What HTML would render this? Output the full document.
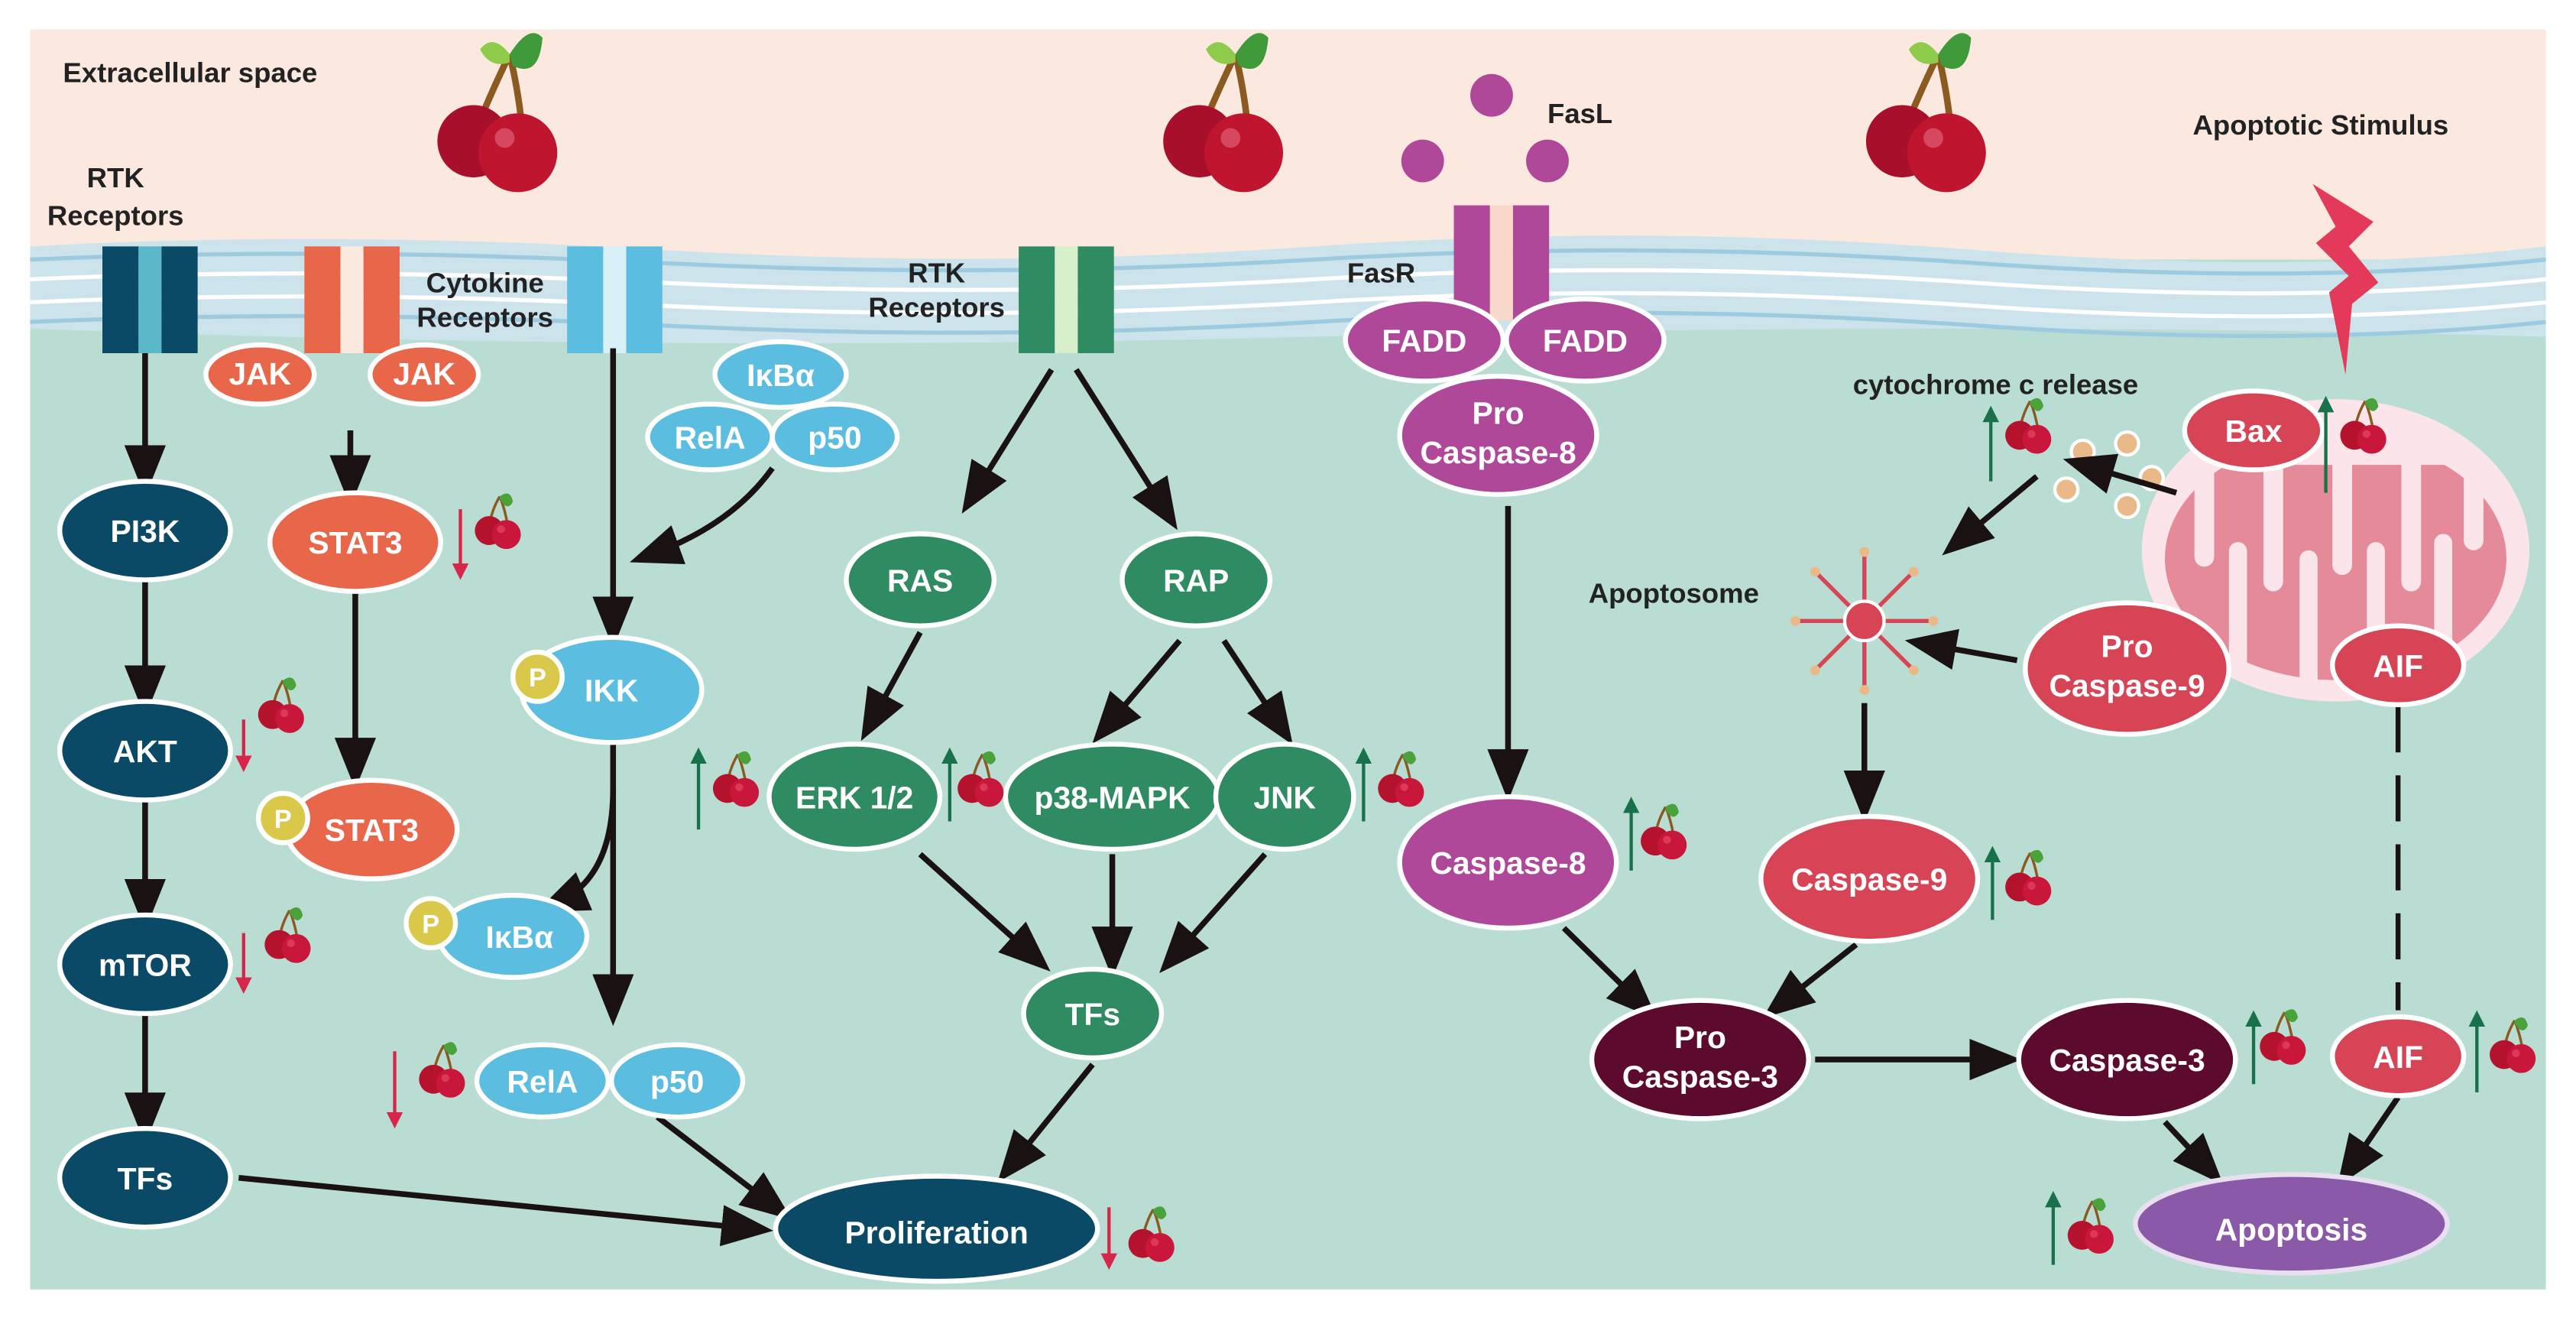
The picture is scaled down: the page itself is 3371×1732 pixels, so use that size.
<!DOCTYPE html>
<html><head><meta charset="utf-8"><style>
html,body{margin:0;padding:0;background:#fff}
svg{display:block}
text{font-family:"Liberation Sans",sans-serif;font-weight:bold}
.w{fill:#fff;text-anchor:middle;font-size:19px}
.k{fill:#222;font-size:17px}
</style></head><body>
<svg width="3371" height="1732" viewBox="0 0 1568 806" xmlns="http://www.w3.org/2000/svg">
<defs>
<clipPath id="mc"><ellipse cx="1422" cy="335" rx="118" ry="92"/></clipPath>
<marker id="ah2" viewBox="0 0 10 10" refX="6" refY="5" markerWidth="9" markerHeight="9" orient="auto"><path d="M0,1 L10,5 L0,9 z" fill="#1a1212"/></marker>
<marker id="ahg" viewBox="0 0 10 10" refX="5" refY="5" markerWidth="5" markerHeight="5" orient="auto"><path d="M0,0 L10,5 L0,10 z" fill="#17714a"/></marker>
<marker id="ahr" viewBox="0 0 10 10" refX="5" refY="5" markerWidth="5" markerHeight="5" orient="auto"><path d="M0,0 L10,5 L0,10 z" fill="#d6264a"/></marker>
<symbol id="ch" viewBox="0 0 40 45">
<path d="M20,4 Q14,14 12,26" stroke="#8a5a20" stroke-width="2" fill="none"/>
<path d="M20,4 Q24,14 26,26" stroke="#8a5a20" stroke-width="2" fill="none"/>
<path d="M20,4 Q28,-2 30,8 Q26,16 20,6z" fill="#4aa23a"/>
<circle cx="12" cy="30" r="11" fill="#b5122e"/>
<circle cx="25" cy="33" r="11" fill="#c8173a"/>
<circle cx="21" cy="29" r="3" fill="#e8506a" opacity=".6"/>
</symbol>
<symbol id="bigch" viewBox="0 0 90 100">
<path d="M50,15 Q38,40 30,60" stroke="#8a5a20" stroke-width="4" fill="none"/>
<path d="M50,15 Q56,40 58,65" stroke="#8a5a20" stroke-width="4" fill="none"/>
<path d="M50,15 Q62,-4 70,5 Q68,30 52,22z" fill="#3f9a3a"/>
<path d="M50,15 Q40,2 32,12 Q38,24 50,20z" fill="#8fcb4a"/>
<circle cx="28" cy="68" r="22" fill="#a80f2a"/>
<circle cx="55" cy="75" r="24" fill="#c0152f"/>
<circle cx="47" cy="66" r="6" fill="#e36a80" opacity=".6"/>
</symbol>
</defs>
<rect width="1568" height="806" fill="#fff"/>
<rect x="18" y="18" width="1532" height="767" fill="#b9ddd3"/>
<rect x="18" y="18" width="1532" height="140" fill="#fbe9df"/>
<path d="M18,150 Q200,140 400,152 T800,150 T1200,152 T1550,150 L1550,205 Q1200,195 800,205 T18,200 z" fill="#cde3ec"/>
<path d="M18,158 Q200,150 400,160 T800,158 T1200,160 T1550,158" stroke="#9ccbe0" stroke-width="2.5" fill="none"/>
<path d="M18,170 Q200,162 400,172 T800,170 T1200,172 T1550,170" stroke="#fff" stroke-width="2.5" fill="none"/>
<path d="M18,184 Q200,176 400,186 T800,184 T1200,186 T1550,184" stroke="#fff" stroke-width="2.5" fill="none"/>
<path d="M18,196 Q200,188 400,198 T800,196 T1200,198 T1550,196" stroke="#9ccbe0" stroke-width="2.5" fill="none"/>

<text x="38" y="50" class="k" font-size="18">Extracellular space</text>
<text x="70" y="114" class="k" text-anchor="middle" font-size="15">RTK</text>
<text x="70" y="137" class="k" text-anchor="middle" font-size="15">Receptors</text>
<text x="295" y="178" class="k" text-anchor="middle" font-size="15">Cytokine</text>
<text x="295" y="199" class="k" text-anchor="middle" font-size="15">Receptors</text>
<text x="570" y="172" class="k" text-anchor="middle" font-size="15">RTK</text>
<text x="570" y="193" class="k" text-anchor="middle" font-size="15">Receptors</text>
<text x="820" y="172" class="k" font-size="17">FasR</text>
<text x="942" y="75" class="k" font-size="18">FasL</text>
<text x="1335" y="82" class="k" font-size="18">Apoptotic Stimulus</text>
<text x="1128" y="240" class="k" font-size="18">cytochrome c release</text>
<text x="967" y="367" class="k" font-size="17">Apoptosome</text>

<use href="#bigch" x="260" y="18" width="90" height="100"/>
<use href="#bigch" x="702" y="18" width="90" height="100"/>
<use href="#bigch" x="1130" y="18" width="90" height="100"/>

<g><rect x="62" y="150" width="22" height="65" fill="#0b4a66"/><rect x="84" y="150" width="14" height="65" fill="#5bb8c8"/><rect x="98" y="150" width="22" height="65" fill="#0b4a66"/></g>
<g><rect x="185" y="150" width="22" height="65" fill="#e8674a"/><rect x="207" y="150" width="14" height="65" fill="#fbe9df"/><rect x="221" y="150" width="22" height="65" fill="#e8674a"/></g>
<g><rect x="345" y="150" width="22" height="65" fill="#5bbde0"/><rect x="367" y="150" width="14" height="65" fill="#d8f0f8"/><rect x="381" y="150" width="22" height="65" fill="#5bbde0"/></g>
<g><rect x="620" y="150" width="22" height="65" fill="#2e8b62"/><rect x="642" y="150" width="14" height="65" fill="#d8efcc"/><rect x="656" y="150" width="22" height="65" fill="#2e8b62"/></g>
<g><rect x="885" y="125" width="22" height="70" fill="#b0489a"/><rect x="907" y="125" width="14" height="70" fill="#f8d8c8"/><rect x="921" y="125" width="22" height="70" fill="#b0489a"/></g>
<circle cx="908" cy="58" r="13" fill="#b0489a"/><circle cx="866" cy="98" r="13" fill="#b0489a"/><circle cx="942" cy="98" r="13" fill="#b0489a"/>

<path d="M1408,112 L1445,135 L1430,150 L1448,172 L1432,185 L1428,228 L1418,178 L1430,168 L1410,148 L1422,138 z" fill="#e23a58"/>

<ellipse cx="1422" cy="335" rx="118" ry="92" fill="#fbe4ea"/>
<ellipse cx="1422" cy="340" rx="104" ry="74" fill="#e48a98"/>
<g fill="#fbe4ea" clip-path="url(#mc)">
<rect x="1300" y="255" width="245" height="28"/>
<rect x="1336" y="265" width="12" height="80" rx="6"/>
<rect x="1378" y="265" width="12" height="95" rx="6"/>
<rect x="1420" y="265" width="12" height="85" rx="6"/>
<rect x="1462" y="265" width="12" height="95" rx="6"/>
<rect x="1500" y="265" width="12" height="70" rx="6"/>
<rect x="1357" y="330" width="11" height="90" rx="5.5"/>
<rect x="1400" y="335" width="11" height="90" rx="5.5"/>
<rect x="1441" y="330" width="11" height="90" rx="5.5"/>
<rect x="1482" y="325" width="11" height="90" rx="5.5"/>
</g>

<g fill="#e9b98a" stroke="#fff" stroke-width="2"><circle cx="1268" cy="275" r="7"/><circle cx="1295" cy="270" r="7"/><circle cx="1310" cy="291" r="7"/><circle cx="1258" cy="298" r="7"/><circle cx="1295" cy="308" r="7"/></g>

<g stroke="#d74456" stroke-width="2.5">
<line x1="1135" y1="378" x2="1135" y2="338"/><line x1="1135" y1="378" x2="1135" y2="418"/><line x1="1135" y1="378" x2="1095" y2="378"/><line x1="1135" y1="378" x2="1175" y2="378"/>
<line x1="1135" y1="378" x2="1107" y2="350"/><line x1="1135" y1="378" x2="1163" y2="350"/><line x1="1135" y1="378" x2="1107" y2="406"/><line x1="1135" y1="378" x2="1163" y2="406"/></g>
<g fill="#e9b98a"><circle cx="1135" cy="336" r="3"/><circle cx="1135" cy="420" r="3"/><circle cx="1093" cy="378" r="3"/><circle cx="1177" cy="378" r="3"/><circle cx="1105" cy="348" r="3"/><circle cx="1165" cy="348" r="3"/><circle cx="1105" cy="408" r="3"/><circle cx="1165" cy="408" r="3"/></g>
<circle cx="1135" cy="378" r="12" fill="#d74456" stroke="#fff" stroke-width="2"/>

<g stroke="#1a1212" stroke-width="3.5" fill="none" marker-end="url(#ah2)">
<line x1="88" y1="215" x2="88" y2="290"/><line x1="88" y1="353" x2="88" y2="424"/><line x1="88" y1="487" x2="88" y2="554"/><line x1="88" y1="617" x2="88" y2="684"/>
<line x1="213" y1="262" x2="213" y2="296"/><line x1="216" y1="360" x2="216" y2="468"/>
<line x1="373" y1="212" x2="373" y2="382"/>
<path d="M470,285 Q445,320 395,338"/>
<path d="M373,452 L373,612"/>
<path d="M373,480 Q373,535 338,550"/>
<line x1="145" y1="717" x2="458" y2="748"/>
<line x1="400" y1="680" x2="472" y2="735"/>
<line x1="640" y1="225" x2="592" y2="302"/><line x1="655" y1="225" x2="710" y2="312"/>
<line x1="560" y1="385" x2="530" y2="440"/><line x1="718" y1="390" x2="673" y2="443"/><line x1="745" y1="390" x2="780" y2="443"/>
<line x1="560" y1="520" x2="630" y2="583"/><line x1="677" y1="520" x2="677" y2="583"/><line x1="770" y1="520" x2="714" y2="583"/>
<line x1="665" y1="648" x2="615" y2="710"/>
<line x1="918" y1="308" x2="918" y2="475"/>
<line x1="952" y1="565" x2="1000" y2="612"/><line x1="1130" y1="575" x2="1083" y2="612"/>
<line x1="1105" y1="645" x2="1218" y2="645"/>
<line x1="1318" y1="683" x2="1345" y2="712"/><line x1="1460" y1="668" x2="1430" y2="712"/>
<line x1="1228" y1="402" x2="1172" y2="392"/>
<line x1="1240" y1="290" x2="1192" y2="330"/>
<line x1="1135" y1="428" x2="1135" y2="488"/>
<line x1="1325" y1="300" x2="1268" y2="283"/>
</g>
<line x1="1460" y1="430" x2="1460" y2="615" stroke="#1a1212" stroke-width="3" stroke-dasharray="28,14"/>

<g stroke="#fff" stroke-width="3">
<g fill="#0b4a66"><ellipse cx="88" cy="323" rx="52" ry="30"/><ellipse cx="88" cy="457" rx="52" ry="30"/><ellipse cx="88" cy="587" rx="52" ry="30"/><ellipse cx="88" cy="717" rx="52" ry="30"/></g>
<g fill="#e8674a"><ellipse cx="158" cy="228" rx="33" ry="18"/><ellipse cx="258" cy="228" rx="33" ry="18"/><ellipse cx="216" cy="330" rx="52" ry="30"/><ellipse cx="226" cy="505" rx="52" ry="30"/></g>
<g fill="#5bbde0"><ellipse cx="475" cy="228" rx="40" ry="20"/><ellipse cx="432" cy="266" rx="38" ry="20"/><ellipse cx="508" cy="266" rx="38" ry="20"/><ellipse cx="372" cy="420" rx="55" ry="32"/><ellipse cx="312" cy="570" rx="45" ry="25"/><ellipse cx="330" cy="658" rx="40" ry="22"/><ellipse cx="412" cy="658" rx="40" ry="22"/></g>
<g fill="#2e8b62"><ellipse cx="560" cy="353" rx="45" ry="28"/><ellipse cx="728" cy="353" rx="45" ry="28"/><ellipse cx="520" cy="485" rx="52" ry="32"/><ellipse cx="677" cy="485" rx="65" ry="32"/><ellipse cx="782" cy="485" rx="42" ry="32"/><ellipse cx="665" cy="617" rx="42" ry="27"/></g>
<g fill="#b0489a"><ellipse cx="867" cy="207" rx="48" ry="25"/><ellipse cx="965" cy="207" rx="48" ry="25"/><ellipse cx="912" cy="265" rx="60" ry="36"/><ellipse cx="918" cy="525" rx="66" ry="40"/></g>
<g fill="#d74456"><ellipse cx="1372" cy="262" rx="42" ry="24"/><ellipse cx="1295" cy="407" rx="62" ry="40"/><ellipse cx="1460" cy="405" rx="40" ry="24"/><ellipse cx="1138" cy="535" rx="66" ry="38"/><ellipse cx="1460" cy="643" rx="40" ry="24"/></g>
<g fill="#5c0a2e"><ellipse cx="1035" cy="645" rx="66" ry="36"/><ellipse cx="1295" cy="645" rx="66" ry="36"/></g>
<ellipse cx="570" cy="748" rx="98" ry="32" fill="#0b4a66"/>
<ellipse cx="1395" cy="745" rx="95" ry="30" fill="#8a5aa8" stroke="#e8e0f0"/>
<g fill="#d9c84a"><circle cx="327" cy="412" r="15"/><circle cx="262" cy="562" r="15"/><circle cx="172" cy="498" r="15"/></g>
</g>
<g font-size="16" text-anchor="middle"><text x="327" y="418" fill="#fff">P</text><text x="262" y="568" fill="#fff">P</text><text x="172" y="504" fill="#fff">P</text></g>

<g>
<text x="88" y="330" class="w">PI3K</text><text x="88" y="464" class="w">AKT</text><text x="88" y="594" class="w">mTOR</text><text x="88" y="724" class="w">TFs</text>
<text x="158" y="234" class="w" font-size="15">JAK</text><text x="258" y="234" class="w" font-size="15">JAK</text>
<text x="216" y="337" class="w">STAT3</text><text x="226" y="512" class="w">STAT3</text>
<text x="475" y="235" class="w">IκBα</text><text x="432" y="273" class="w">RelA</text><text x="508" y="273" class="w">p50</text>
<text x="372" y="427" class="w">IKK</text><text x="316" y="577" class="w">IκBα</text><text x="330" y="665" class="w">RelA</text><text x="412" y="665" class="w">p50</text>
<text x="560" y="360" class="w">RAS</text><text x="728" y="360" class="w">RAP</text><text x="520" y="492" class="w">ERK 1/2</text><text x="677" y="492" class="w">p38-MAPK</text><text x="782" y="492" class="w">JNK</text><text x="665" y="624" class="w">TFs</text>
<text x="867" y="214" class="w">FADD</text><text x="965" y="214" class="w">FADD</text>
<text x="912" y="258" class="w">Pro</text><text x="912" y="282" class="w">Caspase-8</text>
<text x="918" y="532" class="w">Caspase-8</text>
<text x="1372" y="269" class="w">Bax</text><text x="1295" y="400" class="w">Pro</text><text x="1295" y="424" class="w">Caspase-9</text>
<text x="1460" y="412" class="w">AIF</text><text x="1138" y="542" class="w">Caspase-9</text><text x="1460" y="650" class="w">AIF</text>
<text x="1035" y="638" class="w">Pro</text><text x="1035" y="662" class="w">Caspase-3</text><text x="1295" y="652" class="w">Caspase-3</text>
<text x="570" y="757" class="w" font-size="24">Proliferation</text>
<text x="1395" y="755" class="w" font-size="26">Apoptosis</text>
</g>

<g stroke-width="2">
<line x1="280" y1="310" x2="280" y2="348" stroke="#d6264a" marker-end="url(#ahr)"/>
<line x1="148" y1="438" x2="148" y2="465" stroke="#d6264a" marker-end="url(#ahr)"/>
<line x1="148" y1="568" x2="148" y2="600" stroke="#d6264a" marker-end="url(#ahr)"/>
<line x1="240" y1="640" x2="240" y2="682" stroke="#d6264a" marker-end="url(#ahr)"/>
<line x1="675" y1="735" x2="675" y2="768" stroke="#d6264a" marker-end="url(#ahr)"/>
<line x1="425" y1="505" x2="425" y2="460" stroke="#17714a" marker-end="url(#ahg)"/>
<line x1="578" y1="500" x2="578" y2="460" stroke="#17714a" marker-end="url(#ahg)"/>
<line x1="830" y1="500" x2="830" y2="460" stroke="#17714a" marker-end="url(#ahg)"/>
<line x1="993" y1="530" x2="993" y2="490" stroke="#17714a" marker-end="url(#ahg)"/>
<line x1="1213" y1="560" x2="1213" y2="520" stroke="#17714a" marker-end="url(#ahg)"/>
<line x1="1212" y1="293" x2="1212" y2="252" stroke="#17714a" marker-end="url(#ahg)"/>
<line x1="1416" y1="300" x2="1416" y2="246" stroke="#17714a" marker-end="url(#ahg)"/>
<line x1="1372" y1="660" x2="1372" y2="620" stroke="#17714a" marker-end="url(#ahg)"/>
<line x1="1508" y1="665" x2="1508" y2="620" stroke="#17714a" marker-end="url(#ahg)"/>
<line x1="1250" y1="770" x2="1250" y2="730" stroke="#17714a" marker-end="url(#ahg)"/>
</g>
<use href="#ch" x="288" y="298" width="32" height="38"/>
<use href="#ch" x="156" y="410" width="32" height="38"/>
<use href="#ch" x="160" y="550" width="32" height="38"/>
<use href="#ch" x="254" y="632" width="32" height="38"/>
<use href="#ch" x="686" y="732" width="32" height="38"/>
<use href="#ch" x="433" y="455" width="32" height="38"/>
<use href="#ch" x="582" y="455" width="32" height="38"/>
<use href="#ch" x="838" y="455" width="32" height="38"/>
<use href="#ch" x="998" y="487" width="32" height="38"/>
<use href="#ch" x="1220" y="515" width="32" height="38"/>
<use href="#ch" x="1220" y="240" width="32" height="38"/>
<use href="#ch" x="1424" y="240" width="32" height="38"/>
<use href="#ch" x="1375" y="612" width="32" height="38"/>
<use href="#ch" x="1515" y="617" width="32" height="38"/>
<use href="#ch" x="1258" y="727" width="32" height="38"/>
</svg>
</body></html>
